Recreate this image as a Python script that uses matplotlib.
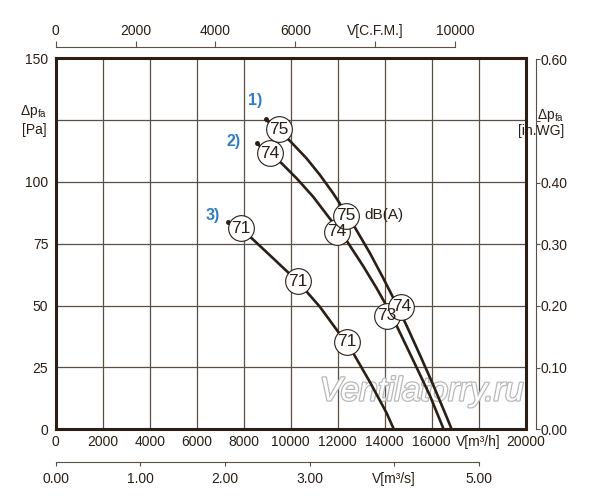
import matplotlib
matplotlib.use("Agg")
import matplotlib.pyplot as plt
import matplotlib.patheffects as pe

plt.rcParams['font.family'] = ['Liberation Sans', 'DejaVu Sans']
plt.rcParams['mathtext.fontset'] = 'custom'
plt.rcParams['mathtext.rm'] = 'Liberation Sans'

# fan curves, V [m3/h] vs dp [Pa]
flow_1 = [8930, 9960, 10670, 11240, 11810, 12350, 12660, 13370, 13930, 14290, 14930, 15490, 16060, 16630, 16850]
dp_1 = [125.2, 116.6, 109.5, 102.8, 95.3, 87.4, 82.7, 71.2, 61.2, 54.5, 41.9, 30.2, 18.0, 5.1, 0.0]
flow_2 = [8550, 9610, 10250, 10960, 11520, 11950, 12380, 13080, 13650, 14000, 14260, 14570, 15210, 15920, 16510]
dp_2 = [115.5, 107.5, 101.4, 93.9, 86.9, 81.6, 76.2, 66.0, 57.1, 51.2, 46.5, 40.6, 27.9, 13.7, 0.0]
flow_3 = [7340, 8340, 9250, 10300, 11240, 11810, 12380, 12660, 13370, 14080, 14390]
dp_3 = [83.6, 77.2, 69.1, 59.7, 49.5, 42.1, 34.7, 30.8, 19.1, 6.6, 0.0]

# sound level markers on each curve
db_flow_1 = [9500, 12350, 14710]
db_dp_1 = [121.2, 86.3, 49.5]
db_1 = [75, 75, 74]
db_flow_2 = [9110, 11950, 14080]
db_dp_2 = [111.5, 79.8, 45.8]
db_2 = [74, 74, 73]
db_flow_3 = [7870, 10300, 12380]
db_dp_3 = [81.2, 59.9, 35.4]
db_3 = [71, 71, 71]

x_ticks = list(range(0, 20001, 2000))
x_labels = ['0', '2000', '4000', '6000', '8000', '10000', '12000', '14000', '16000', 'V[m³/h]', '20000']
y_ticks = [0, 25, 50, 75, 100, 125, 150]
y_labels = ['0', '25', '50', '75', '100', '', '150']
cfm_ticks = [0, 2000, 4000, 6000, 8000, 10000]
cfm_labels = ['0', '2000', '4000', '6000', 'V[C.F.M.]', '10000']
ms_ticks = [0, 1, 2, 3, 4, 5]
ms_labels = ['0.00', '1.00', '2.00', '3.00', 'V[m³/s]', '5.00']
wg_ticks = [0, 0.1, 0.2, 0.3, 0.4, 0.5, 0.6]
wg_labels = ['0.00', '0.10', '0.20', '0.30', '0.40', '', '0.60']

ink = '#2a1e15'
gridc = '#5a4f45'
blue = '#2f7dc5'

fig = plt.figure(figsize=(6, 5), dpi=100)
ax = fig.add_axes([0.0928, 0.1414, 0.7834, 0.7426])
ax.set_xlim(0, 20000)
ax.set_ylim(0, 150)
ax.set_xticks(x_ticks, labels=x_labels)
ax.set_yticks(y_ticks, labels=y_labels)
ax.tick_params(axis='x', length=0, labelsize=10, labelcolor=ink, pad=4)
ax.tick_params(axis='y', length=0, labelsize=10, labelcolor=ink, pad=5.3)
ax.set_axisbelow(True)
ax.grid(True, color=gridc, lw=0.9)
for s in ax.spines.values():
    s.set_linewidth(2.2)
    s.set_color(ink)

# curves
for fl, dp in [(flow_1, dp_1), (flow_2, dp_2), (flow_3, dp_3)]:
    ax.plot(fl, dp, color=ink, lw=1.9, zorder=3, solid_capstyle='butt', solid_joinstyle='round')
    ax.plot(fl[0], dp[0], 'o', color=ink, ms=2.5, zorder=3)

# dB circles: curve 3, curve 2, then curve 1 on top
for fl, dp, lv in [(db_flow_3, db_dp_3, db_3), (db_flow_2, db_dp_2, db_2), (db_flow_1, db_dp_1, db_1)]:
    for f, p, v in zip(fl, dp, lv):
        ax.plot(f, p, 'o', ms=18.5, mfc='white', mec=ink, mew=0.8, zorder=4)
        ax.text(f, p, str(v), ha='center', va='center', fontsize=12.5, color=ink, zorder=5)

ax.text(13150, 86.6, 'dB(A)', ha='left', va='center', fontsize=11, color=ink, zorder=5)
ax.text(8480, 132.8, '1)', ha='center', va='center', fontsize=11.5, fontweight='bold', color=blue)
ax.text(7550, 116.2, '2)', ha='center', va='center', fontsize=11.5, fontweight='bold', color=blue)
ax.text(6660, 86.2, '3)', ha='center', va='center', fontsize=11.5, fontweight='bold', color=blue)

ax.text(15580, 15.1, 'Ventilatorry.ru', ha='center', va='center', fontsize=24, style='italic',
        color='white', zorder=1.5,
        path_effects=[pe.withStroke(linewidth=1.8, foreground='#b8b8b8')])

# top C.F.M. axis
cfm = ax.secondary_xaxis(1 + 11 / 371.3, functions=(lambda q: q / 1.699, lambda c: c * 1.699))
cfm.set_xticks(cfm_ticks, labels=cfm_labels)
cfm.tick_params(direction='out', length=4.6, width=0.8, color=gridc, labelsize=10, labelcolor=ink, pad=1.7)
cfm.spines['top'].set_bounds(0, 10000)
cfm.spines['top'].set_color(gridc)
cfm.spines['top'].set_linewidth(0.8)

# bottom m3/s axis
msx = ax.secondary_xaxis(-33 / 371.3, functions=(lambda q: q / 3600, lambda s: s * 3600))
msx.set_xticks(ms_ticks, labels=ms_labels)
msx.tick_params(direction='out', length=3.1, width=0.8, color=gridc, labelsize=10, labelcolor=ink, pad=3.7)
msx.spines['bottom'].set_bounds(0, 5)
msx.spines['bottom'].set_color(gridc)
msx.spines['bottom'].set_linewidth(0.8)

# right in.WG axis
wg = ax.secondary_yaxis(1 + 10 / 470.3, functions=(lambda p: p / 249.09, lambda w: w * 249.09))
wg.set_yticks(wg_ticks, labels=wg_labels)
wg.tick_params(direction='out', length=2.7, width=0.8, color=gridc, labelsize=10, labelcolor=ink, pad=1)
wg.spines['right'].set_bounds(0, 0.6)
wg.spines['right'].set_color(gridc)
wg.spines['right'].set_linewidth(0.8)

# pressure unit labels
fig.text(47.5 / 600, 1 - 111.5 / 500, r'$\mathregular{\Delta p_{fa}}$', ha='right', va='center', fontsize=10, color=ink)
fig.text(47 / 600, 1 - 130 / 500, '[Pa]', ha='right', va='center', fontsize=10, color=ink)
fig.text(564 / 600, 1 - 116 / 500, r'$\mathregular{\Delta p_{fa}}$', ha='right', va='center', fontsize=10, color=ink)
fig.text(564 / 600, 1 - 130.5 / 500, '[in.WG]', ha='right', va='center', fontsize=10, color=ink)

fig.savefig('out.png', dpi=100)
